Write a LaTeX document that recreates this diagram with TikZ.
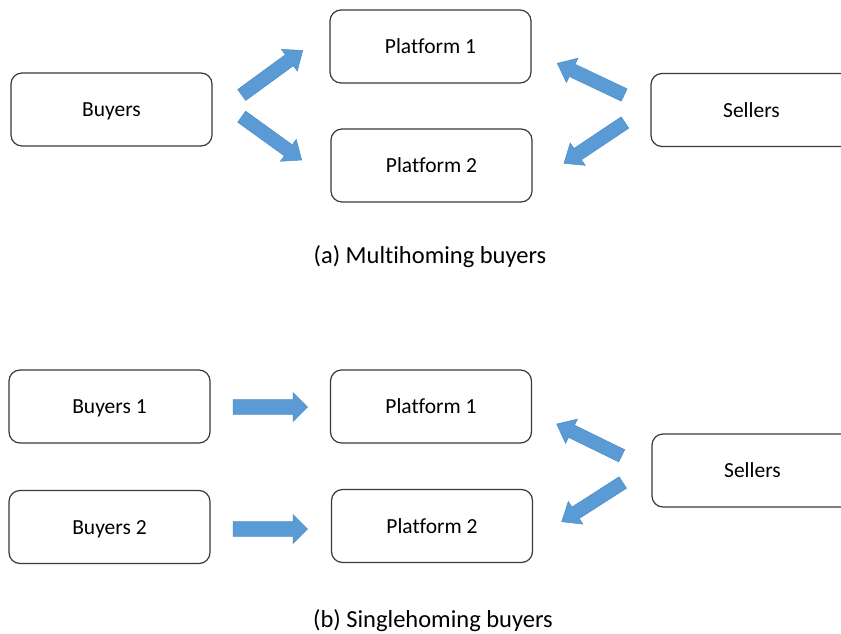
\documentclass[tikz,border=0pt]{standalone}
\usepackage{fontspec}
\setmainfont[Ligatures=NoCommon]{Carlito}
\usetikzlibrary{calc}
\definecolor{arrowblue}{HTML}{5B9BD5}
\definecolor{arrowedge}{HTML}{4F8CC6}
\definecolor{boxedge}{HTML}{3A3A3A}
\tikzset{
  box/.style={draw=boxedge, line width=1.2pt, rounded corners=11pt, fill=white,
    minimum width=201pt, minimum height=73pt, inner sep=0pt,
    text height=14.4pt, text depth=0pt,
    font=\fontsize{21.5}{26}\selectfont},
  caption/.style={font=\fontsize{24.5}{29}\selectfont, inner sep=0pt,
    text height=16.6pt, text depth=0pt},
  blockarrow/.style={fill=arrowblue, draw=arrowedge, line width=0.5pt, line join=miter}
}
% #1 tail, #2 tip, #3 name, #4 shaft half width, #5 head half width, #6 head length
\newcommand\blockarr[6]{%
  \coordinate (#3n) at ($(#2)!#6!(#1)$);
  \filldraw[blockarrow] ($(#1)!#4!90:(#2)$) -- ($(#3n)!#4!-90:(#1)$) -- ($(#3n)!#5!-90:(#1)$)
    -- (#2) -- ($(#3n)!#5!90:(#1)$) -- ($(#3n)!#4!90:(#1)$) -- ($(#1)!#4!-90:(#2)$) -- cycle;}
\begin{document}
\begin{tikzpicture}[x=1pt,y=-1pt]
\clip (0,0) rectangle (841,634);
\fill[white] (0,0) rectangle (841,634);
% (a)
\node[box] (buyers) at (111.5,109.5) {Buyers};
\node[box] (p1a) at (430.5,46.5) {Platform 1};
\node[box] (p2a) at (431.5,165.5) {Platform 2};
\node[box] (sellersa) at (751.5,110) {Sellers};
\coordinate (a1t) at (241.7,95);   \coordinate (a1h) at (302.7,50.5);
\coordinate (a2t) at (241.7,116.7);\coordinate (a2h) at (301.7,160);
\coordinate (a3t) at (624.2,95);   \coordinate (a3h) at (557.3,63.3);
\coordinate (a4t) at (625,122.5);  \coordinate (a4h) at (564,163.3);
\blockarr{a1t}{a1h}{a1}{6.8pt}{13.5pt}{16.5pt}
\blockarr{a2t}{a2h}{a2}{6.8pt}{13.5pt}{16.5pt}
\blockarr{a3t}{a3h}{a3}{6.8pt}{13.5pt}{16.5pt}
\blockarr{a4t}{a4h}{a4}{6.8pt}{13.5pt}{16.5pt}
\node[caption] (capa) at (430,255) {(a) Multihoming buyers};
% (b)
\node[box] (b1) at (109.5,406.5) {Buyers 1};
\node[box] (b2) at (109.5,527) {Buyers 2};
\node[box] (p1b) at (431,406.5) {Platform 1};
\node[box] (p2b) at (432,526) {Platform 2};
\node[box] (sellersb) at (752.5,470.5) {Sellers};
\coordinate (h1t) at (233,407);   \coordinate (h1h) at (307.5,407);
\coordinate (h2t) at (233,529);   \coordinate (h2h) at (307.5,529);
\blockarr{h1t}{h1h}{h1}{7.3pt}{14.5pt}{14.5pt}
\blockarr{h2t}{h2h}{h2}{7.3pt}{14.5pt}{14.5pt}
\coordinate (a5t) at (621.7,455.8); \coordinate (a5h) at (556.7,424);
\coordinate (a6t) at (622.8,482.5); \coordinate (a6h) at (561.7,521.7);
\blockarr{a5t}{a5h}{a5}{6.8pt}{13.5pt}{16.5pt}
\blockarr{a6t}{a6h}{a6}{6.8pt}{13.5pt}{16.5pt}
\node[caption] (capb) at (433,619) {(b) Singlehoming buyers};
\end{tikzpicture}
\end{document}
